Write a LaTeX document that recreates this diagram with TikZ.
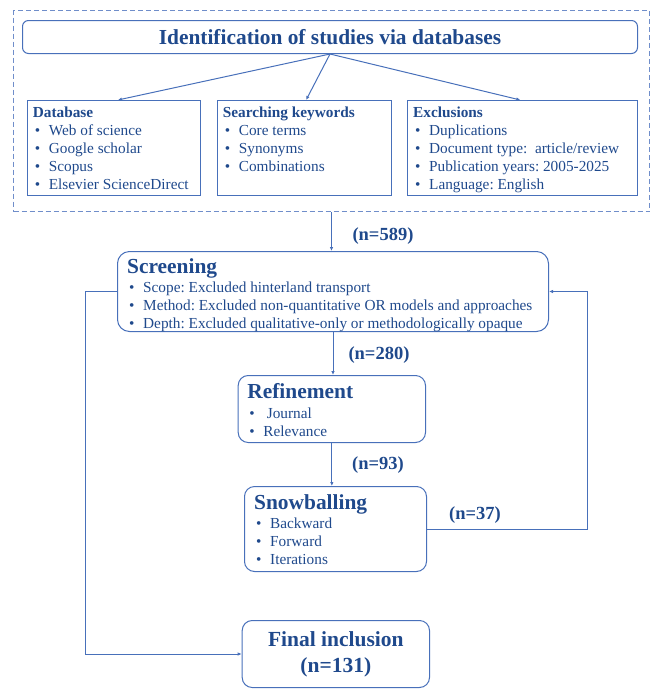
\documentclass[tikz,border=0pt]{standalone}
\usepackage{fontspec}
\setmainfont{Liberation Serif}
\usetikzlibrary{arrows.meta}

\definecolor{txtblue}{RGB}{31,73,140}
\definecolor{lineblue}{RGB}{72,112,186}
\definecolor{dashblue}{RGB}{112,142,202}

\newcommand{\itm}{\makebox[16pt][l]{\hspace{2pt}\textbullet}}
\newcommand{\bigbf}{\fontsize{21.4}{25}\selectfont\bfseries}
\frenchspacing

\tikzset{
  plainbox/.style={draw=lineblue, line width=1pt, anchor=north west, inner sep=0pt},
  roundbox/.style={plainbox, rounded corners=10pt},
  dashframe/.style={draw=dashblue, line width=1pt, dashed, dash pattern=on 5pt off 3pt, anchor=north west, inner sep=0pt},
  boxtext/.style={anchor=north west, align=left, inner xsep=6pt, inner ysep=6.6pt,
    text=txtblue, font=\fontsize{15.3}{18}\selectfont},
  numlabel/.style={text=txtblue, font=\fontsize{18.5}{22}\selectfont\bfseries, inner sep=0pt},
  arr/.style={draw=lineblue, line width=1pt, -{Latex[length=4pt,width=3.5pt]}}
}

\begin{document}
\begin{tikzpicture}[x=1pt, y=-1pt]
\useasboundingbox (0,0) rectangle (654,689);

% identification part
\node[dashframe, minimum width=636, minimum height=201] (idframe) at (13,10) {};
\node[roundbox, rounded corners=6pt, minimum width=615, minimum height=33, text=txtblue, font=\bigbf] (ident) at (22,20) {Identification of studies via databases};

\node[plainbox, minimum width=173.3, minimum height=95] (db) at (26.7,100) {};
\node[boxtext] (dbtext) at (db.north west) {\textbf{Database}\\
  \itm Web of science\\ \itm Google scholar\\ \itm Scopus\\ \itm Elsevier ScienceDirect};

\node[plainbox, minimum width=173.8, minimum height=95] (kw) at (216.7,100) {};
\node[boxtext] (kwtext) at (kw.north west) {\textbf{Searching keywords}\\
  \itm Core terms\\ \itm Synonyms\\ \itm Combinations};

\node[plainbox, minimum width=229.7, minimum height=95] (excl) at (407,100) {};
\node[boxtext] (excltext) at (excl.north west) {\textbf{Exclusions}\\
  \itm Duplications\\ \itm Document type:~ article/review\\ \itm Publication years: 2005-2025\\ \itm Language: English};

\draw[arr] (ident.south) -- ([xshift=4pt]db.north);
\draw[arr] (ident.south) -- ([xshift=2pt]kw.north);
\draw[arr] (ident.south) -- ([xshift=-2pt]excl.north);

% screening stages
\node[roundbox, rounded corners=12pt, minimum width=431, minimum height=80] (screen) at (117,251) {};
\node[boxtext, inner xsep=10pt, inner ysep=7pt] (screentext) at (screen.north west) {{\bigbf Screening}\\[1pt]
  \itm Scope: Excluded hinterland transport\\
  \itm Method: Excluded non-quantitative OR models and approaches\\
  \itm Depth: Excluded qualitative-only or methodologically opaque};

\node[roundbox, minimum width=187.3, minimum height=67] (refine) at (237.7,375) {};
\node[boxtext, inner xsep=9.5pt, inner ysep=8pt] (refinetext) at (refine.north west) {{\bigbf Refinement}\\[2pt]
  \itm\hspace{3.5pt}Journal\\ \itm Relevance};

\node[roundbox, minimum width=182, minimum height=85] (snow) at (244,486) {};
\node[boxtext, inner xsep=10pt, inner ysep=8.5pt] (snowtext) at (snow.north west) {{\bigbf Snowballing}\\[1pt]
  \itm Backward\\ \itm Forward\\ \itm Iterations};

\node[roundbox, minimum width=187.3, minimum height=67, align=center, text=txtblue,
  font=\fontsize{21.5}{26}\selectfont\bfseries] (final) at (241.7,620) {Final inclusion\\(n=131)};

% flows
\draw[arr] (idframe.south) -- (idframe.south |- screen.north);
\draw[arr] (screen.south) -- (screen.south |- refine.north);
\draw[arr] (refine.south) -- (refine.south |- snow.north);
\draw[arr] (snow.east) -- ++(160,0) |- (screen.east);
\draw[arr] (screen.west) -- ++(-32,0) |- (final.west);

\node[numlabel] (n589) at (383,236) {(n=589)};
\node[numlabel] (n280) at (379,355) {(n=280)};
\node[numlabel] (n93) at (378,465) {(n=93)};
\node[numlabel] (n37) at (475,515) {(n=37)};
\end{tikzpicture}
\end{document}
